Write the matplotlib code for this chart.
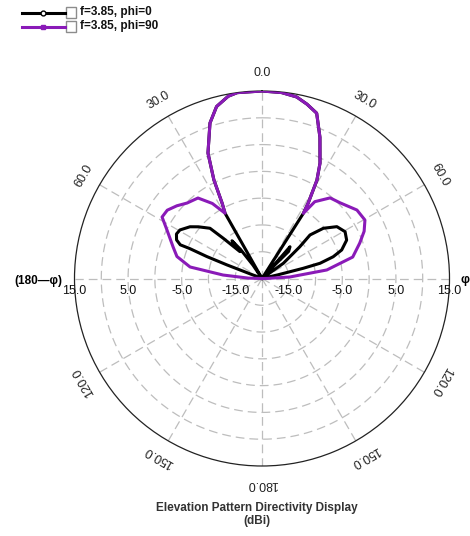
import numpy as np
import matplotlib.pyplot as plt
from matplotlib.patches import Rectangle

plt.rcParams['font.family'] = ['Liberation Sans', 'DejaVu Sans']

# Elevation cuts at f = 3.85: theta from zenith in degrees (negative = left half),
# directivity in dBi. Values below the plot floor sit at the centre.
theta_phi0 = [-180, -75, -68.5, -68.8, -68.3, -67.5, -67.6, -65.7, -62.5, -59.4,
              -54.3, -50.9, -46.0, -43.9, -39.4, -38.5, -36.5, -34.0, -32.0,
              -29.5, -27.9, -26.0, -23.3, -18.5, -14.8, -10.5, -7.6, 0, 6, 10.8,
              14.5, 18.3, 22.3, 26.7, 29.2, 31.5, 32.4, 34.0, 42.0, 41.4, 44.5,
              43.0, 52.0, 54.5, 50.0, 47.8, 50.7, 55.3, 60.6, 65.6, 70.3, 73.0,
              75.3, 76.1, 77.0, 78.0, 180]
dbi_phi0 = [-30, -30, -19, -13, -8.9, -5.4, -3.5, -2.5, -2.0, -2.2,
            -3.45, -4.7, -6.5, -9.6, -13.5, -11.0, -13.2, -17, -30,
            -6.0, -4.1, 0.5, 5.5, 10.6, 13.2, 14.6, 15.0, 15.0, 14.9, 14.5,
            13.6, 12.5, 8.5, 4.1, 1.0, -3.5, -5.6, -30, -17, -12.1, -12.9,
            -17, -30, -15.1, -10.8, -7.9, -5.2, -3.0, -2.2, -2.65, -4.2, -6.1,
            -8.8, -12.1, -17, -30, -30]

theta_phi90 = [-180, -90, -88.5, -84.9, -80.9, -75.5, -70.5, -63.0, -58.4, -54.2,
               -49.5, -44.8, -38.5, -33.5, -29.5, -27.9, -26.0, -23.3, -18.5,
               -14.8, -10.5, -7.6, 0, 6, 10.8, 14.5, 18.3, 22.3, 26.7, 29.2,
               31.5, 32.4, 34.5, 40.2, 45.9, 54.2, 60.4, 65.2, 70.1, 76.7, 82.5,
               86.9, 89.0, 90, 180]
dbi_phi90 = [-30, -30, -17.5, -12.7, -6.4, -3.6, -2.4, -0.1, 1.9, 1.8,
             0.9, -0.15, -0.8, -3.2, -6.0, -4.1, 0.5, 5.5, 10.6,
             13.2, 14.6, 15.0, 15.0, 14.9, 14.5, 13.6, 12.5, 8.5, 4.1, 1.0,
             -3.5, -5.6, -2.6, -0.3, 0.3, 1.85, 2.1, 1.0, -0.6, -2.6, -7.8,
             -14.8, -19, -30, -30]

series = [
    ('f=3.85, phi=0', theta_phi0, dbi_phi0, '#000000', 'o'),
    ('f=3.85, phi=90', theta_phi90, dbi_phi90, '#8a1ab8', 's'),
]

r_min, r_max = -20, 15
ring_levels = [-15, -10, -5, 0, 5, 10]
radial_ticks = [-15, -5, 5, 15]
angle_ticks = [0, 30, 60, 120, 150, 180]

W, H = 470, 536
fig = plt.figure(figsize=(W / 100, H / 100), dpi=100)
cx, cy, R = 262, 278.5, 187.5
ax = fig.add_axes([(cx - R) / W, (H - cy - R) / H, 2 * R / W, 2 * R / H],
                  projection='polar')
ax.set_theta_zero_location('N')
ax.set_theta_direction(-1)
ax.set_rlim(r_min, r_max)
ax.grid(False)
ax.set_xticks([])
ax.set_yticks([])
ax.spines['polar'].set_linewidth(0.9)
ax.spines['polar'].set_color('#222222')

# dashed rings and spokes
full = np.linspace(0, 2 * np.pi, 361)
for lvl in ring_levels:
    ax.plot(full, np.full_like(full, lvl), color='#bdbdbd', lw=0.9,
            ls=(0, (7, 4)), zorder=1)
for a in range(0, 360, 30):
    ax.plot([np.radians(a)] * 2, [r_min, r_max], color='#bdbdbd', lw=0.9,
            ls=(0, (7, 4)), zorder=1)

for label, th, val, col, mk in series:
    ax.plot(np.radians(th), np.clip(val, r_min, None), color=col, lw=2.2,
            solid_joinstyle='round', zorder=3)

# angle labels around the rim
for a in angle_ticks:
    signs = [1] if a in (0, 180) else [1, -1]
    for s in signs:
        ax.text(np.radians(s * a), 18.45, f'{a:.1f}', rotation=-s * a,
                rotation_mode='anchor', ha='center', va='center',
                fontsize=9, color='#222222')

# dB labels along the horizontal axis
for v in radial_ticks:
    for a in (90, -90):
        ax.annotate(f'{v:.1f}', xy=(np.radians(a), v), xytext=(0, -12),
                    textcoords='offset pixels', ha='center', va='center',
                    fontsize=9, color='#111111')

fig.text(38 / W, 1 - 281 / H, '(180—φ)', ha='center', va='center',
         fontsize=8.5, fontweight='bold')
fig.text(465 / W, 1 - 280 / H, 'φ', ha='center', va='center',
         fontsize=9, fontweight='bold')

fig.text(257 / W, 1 - 508 / H, 'Elevation Pattern Directivity Display',
         ha='center', va='center', fontsize=8.5, fontweight='bold', color='#333333')
fig.text(257 / W, 1 - 521 / H, '(dBi)', ha='center', va='center',
         fontsize=8.5, fontweight='bold', color='#333333')

# legend with check boxes, drawn in pixel space
lg = fig.add_axes([0, 0, 1, 1], facecolor='none')
lg.set_xlim(0, W)
lg.set_ylim(H, 0)
lg.axis('off')
for i, (label, th, val, col, mk) in enumerate(series):
    y = 12.5 + i * 14
    lg.plot([22, 65], [y, y], color=col, lw=2.2)
    lg.plot([43], [y], marker=mk, ms=3.5, color=col,
            mfc='white' if mk == 'o' else col, mew=1)
    lg.add_patch(Rectangle((66, y - 6), 10, 11.5, fill=False,
                           edgecolor='#8c8c8c', lw=1))
    lg.text(80, y, label, ha='left', va='center', fontsize=8.5,
            fontweight='bold', color='#111111')

fig.savefig('out.png', dpi=100)
